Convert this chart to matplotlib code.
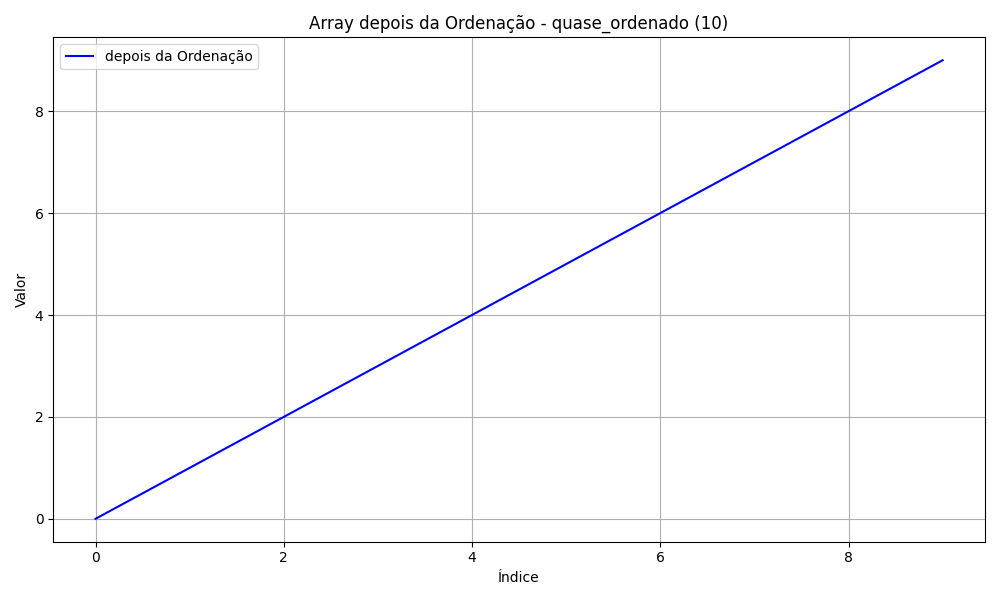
import matplotlib
matplotlib.use('Agg')
import matplotlib.pyplot as plt

indices = [0, 1, 2, 3, 4, 5, 6, 7, 8, 9]
valores = [0, 1, 2, 3, 4, 5, 6, 7, 8, 9]

plt.figure(figsize=(10, 6))
plt.plot(indices, valores, color='blue', label='depois da Ordenação')
plt.title('Array depois da Ordenação - quase_ordenado (10)')
plt.xlabel('Índice')
plt.ylabel('Valor')
plt.legend(loc='upper left')
plt.grid(True)
plt.tight_layout()
plt.savefig('out.png', dpi=100)
